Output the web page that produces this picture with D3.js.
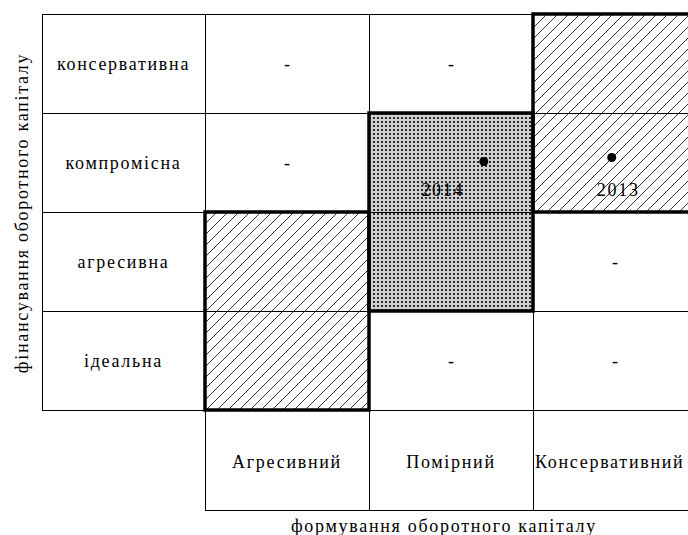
<!DOCTYPE html>
<html>
<head>
<meta charset="utf-8">
<script src="https://cdn.jsdelivr.net/npm/d3@7"></script>
<style>
  body { margin: 0; background: #fff; }
  svg { display: block; }
  text { font-family: "Liberation Serif", "Times New Roman", serif; fill: #000; }
</style>
</head>
<body>
<svg id="chart" width="688" height="535"></svg>
<script>
// стратегії формування (стовпці) та фінансування (рядки)
const formuvannia = ["Агресивний", "Помірний", "Консервативний"];
const finansuvannia = ["консервативна", "компромісна", "агресивна", "ідеальна"];

// клітинки без позиції підприємства
const procherky = [
  ["Агресивний", "консервативна"],
  ["Помірний", "консервативна"],
  ["Агресивний", "компромісна"],
  ["Консервативний", "агресивна"],
  ["Помірний", "ідеальна"],
  ["Консервативний", "ідеальна"]
];

// зони (стовпець, рядки, тип заливки)
const zony = [
  { col: "Агресивний", rows: ["агресивна", "ідеальна"], fill: "hatch" },
  { col: "Консервативний", rows: ["консервативна", "компромісна"], fill: "hatch" },
  { col: "Помірний", rows: ["компромісна", "агресивна"], fill: "dots" }
];

// положення підприємства у матриці (в одиницях клітинок)
const roky = ["2014", "2013"];
const tochkaX = [1.70, 2.48];
const tochkaY = [1.49, 1.45];
const pidpysX = [1.45, 2.52];
const pidpysY = [1.78, 1.78];

const svg = d3.select("#chart");

const x = d3.scaleBand().domain(formuvannia).range([205, 697]);
const y = d3.scaleBand().domain(finansuvannia).range([14, 410]);
const xc = d3.scaleLinear().domain([0, formuvannia.length]).range(x.range());
const yc = d3.scaleLinear().domain([0, finansuvannia.length]).range(y.range());

// візерунки
const defs = svg.append("defs");
const hatch = defs.append("pattern")
    .attr("id", "hatch")
    .attr("patternUnits", "userSpaceOnUse")
    .attr("width", 11).attr("height", 11);
hatch.append("path")
    .attr("d", "M-1,1 l2,-2 M0,11 l11,-11 M10,12 l2,-2")
    .attr("stroke", "#333")
    .attr("stroke-width", 1);

const dots = defs.append("pattern")
    .attr("id", "dots")
    .attr("patternUnits", "userSpaceOnUse")
    .attr("width", 4).attr("height", 4);
dots.append("rect").attr("width", 4).attr("height", 4).attr("fill", "#d0d0d0");
dots.append("rect").attr("x", 1).attr("y", 1).attr("width", 2).attr("height", 2).attr("fill", "#2a2a2a");

// заливка зон
svg.append("g")
    .selectAll("rect")
    .data(zony)
    .join("rect")
    .attr("x", d => x(d.col))
    .attr("y", d => y(d.rows[0]))
    .attr("width", x.bandwidth())
    .attr("height", d => y.bandwidth() * d.rows.length)
    .attr("fill", d => `url(#${d.fill})`);

// тонка сітка
const grid = svg.append("g").attr("stroke", "#000").attr("stroke-width", 1).attr("fill", "none");
const [x0, x1] = x.range();
const [y0, y1] = y.range();
const left = 42, bottom = 510;

finansuvannia.forEach(r => {
  grid.append("line").attr("x1", left).attr("x2", x1).attr("y1", y(r) + 0.5).attr("y2", y(r) + 0.5);
});
grid.append("line").attr("x1", left).attr("x2", x1).attr("y1", y1 + 0.5).attr("y2", y1 + 0.5);
grid.append("line").attr("x1", x0).attr("x2", x1).attr("y1", bottom + 0.5).attr("y2", bottom + 0.5);
grid.append("line").attr("x1", left + 0.5).attr("x2", left + 0.5).attr("y1", y0).attr("y2", y1);
formuvannia.forEach(c => {
  grid.append("line").attr("x1", x(c) + 0.5).attr("x2", x(c) + 0.5).attr("y1", y0).attr("y2", bottom);
});

// жирні межі зон
svg.append("g")
    .selectAll("rect")
    .data(zony)
    .join("rect")
    .attr("x", d => x(d.col))
    .attr("y", d => y(d.rows[0]))
    .attr("width", x.bandwidth())
    .attr("height", d => y.bandwidth() * d.rows.length)
    .attr("fill", "none")
    .attr("stroke", "#000")
    .attr("stroke-width", 3.5);

const fs = 18, ls = 1.7;

// назви рядків
svg.append("g")
    .selectAll("text")
    .data(finansuvannia)
    .join("text")
    .attr("x", (left + x0) / 2)
    .attr("y", d => y(d) + y.bandwidth() / 2)
    .attr("text-anchor", "middle")
    .attr("dominant-baseline", "central")
    .attr("font-size", fs)
    .attr("letter-spacing", ls)
    .text(d => d);

// назви стовпців
svg.append("g")
    .selectAll("text")
    .data(formuvannia)
    .join("text")
    .attr("x", (d, i) => i < 2 ? x(d) + x.bandwidth() / 2 : x(d) + 2)
    .attr("y", (y1 + bottom) / 2 + 2)
    .attr("text-anchor", (d, i) => i < 2 ? "middle" : "start")
    .attr("dominant-baseline", "central")
    .attr("font-size", fs)
    .attr("letter-spacing", ls)
    .text(d => d);

// прочерки
svg.append("g")
    .selectAll("text")
    .data(procherky)
    .join("text")
    .attr("x", d => x(d[0]) + x.bandwidth() / 2)
    .attr("y", d => y(d[1]) + y.bandwidth() / 2)
    .attr("text-anchor", "middle")
    .attr("dominant-baseline", "central")
    .attr("font-size", fs)
    .text("-");

// точки та роки
svg.append("g")
    .selectAll("circle")
    .data(roky)
    .join("circle")
    .attr("cx", (d, i) => xc(tochkaX[i]))
    .attr("cy", (d, i) => yc(tochkaY[i]))
    .attr("r", 4.5)
    .attr("fill", "#000");

svg.append("g")
    .selectAll("text")
    .data(roky)
    .join("text")
    .attr("x", (d, i) => xc(pidpysX[i]))
    .attr("y", (d, i) => yc(pidpysY[i]))
    .attr("text-anchor", "middle")
    .attr("dominant-baseline", "central")
    .attr("font-size", fs)
    .attr("letter-spacing", ls)
    .text(d => d);

// назви осей
svg.append("text")
    .attr("x", 444)
    .attr("y", 526)
    .attr("text-anchor", "middle")
    .attr("dominant-baseline", "central")
    .attr("font-size", fs)
    .attr("letter-spacing", ls)
    .text("формування оборотного капіталу");

svg.append("text")
    .attr("transform", "translate(22,213) rotate(-90)")
    .attr("text-anchor", "middle")
    .attr("dominant-baseline", "central")
    .attr("font-size", fs)
    .attr("letter-spacing", ls)
    .text("фінансування оборотного капіталу");
</script>
</body>
</html>
